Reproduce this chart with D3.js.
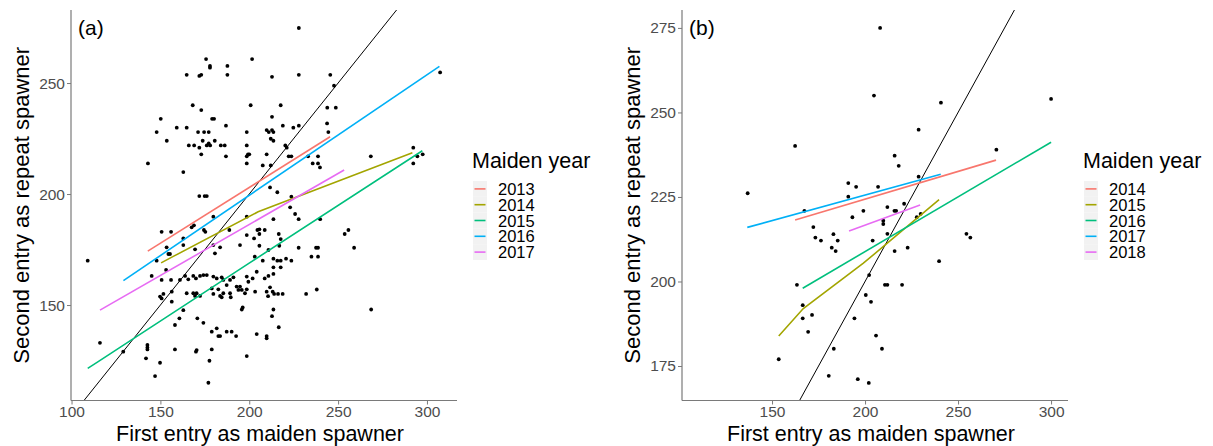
<!DOCTYPE html>
<html>
<head>
<meta charset="utf-8">
<script src="https://cdn.jsdelivr.net/npm/d3@7"></script>
<style>
  html, body { margin: 0; padding: 0; background: #fff; }
  svg { display: block; font-family: "Liberation Sans", Arial, sans-serif; }
</style>
</head>
<body>
<svg id="chart" width="1213" height="446"></svg>
<script>
// ---- Panel (a): maiden years 2013-2017 ----
const yearsA = ["2013", "2014", "2015", "2016", "2017"];
const ticksAx = [100, 150, 200, 250, 300];
const ticksAy = [150, 200, 250];

// first entry (maiden) vs second entry (repeat), day of year
const pointsA = [
  [175.7,260.8],[177.9,257.7],[177.9,256.9],[187.7,257.7],[201.6,260.8],[164.8,253.7],[171.9,253.2],[173,253.7],
  [187.7,253.7],[168.2,240],[173,237.8],[200.8,240],[150.2,233.9],[179.1,233.9],[180.2,233.9],[147.9,227.9],
  [159.2,229.9],[164.8,229.9],[171.2,227.9],[174.6,227.9],[177.2,227.9],[186.9,230.8],[198.6,227.9],[153.6,224],
  [166,221.9],[169,221.9],[171.9,220.9],[173.8,224],[176.1,221.9],[177.2,222.8],[178,221.9],[180.6,224],
  [184,221.9],[186.2,221.9],[198.6,221.9],[173,217.9],[186.9,217],[198.6,217],[199.3,217.9],[200,217.9],
  [198.6,213.8],[143,213.8],[162.9,209.9],[171.9,199.1],[174.9,199.1],[176.1,199.1],
  [227.9,274.8],[212.8,252.8],[227.9,253.7],[245.6,253.7],[247.7,248.8],[307.4,254.8],[217.7,240],[243.9,238.9],
  [248.7,238.9],[212.8,234.8],[218.9,230.8],[224.8,229.9],[227.9,230.8],[243.8,231.8],[244.5,227.9],[209.8,228.8],
  [211,227.9],[212.8,228.8],[213.6,227.9],[212.1,224.9],[213.6,224],[220.3,221.9],[221.1,220.9],[209.8,217.9],
  [222.2,217],[223.7,217],[233.1,217],[238.7,217],[235.7,213.8],[238.7,213.8],[239.8,212],[207.6,212.9],
  [212.1,212.9],[268.4,217],[292.3,220.9],[297.6,217.9],[294.6,217],[292.3,213.8],[211.7,203],[215.8,200.8],
  [223.7,198.8],
  [179.8,189.8],[198.6,189.8],[167.6,185],[168.9,185.9],[150.7,183],[156,183],[174.5,183.8],[175.3,183],
  [188.8,183.8],[205.7,184.1],[198.6,181.5],[202.7,180],[162.9,180],[153.5,176],[162.9,177],[179.8,177],
  [183.6,176],[154.5,173],[155.4,173],[169.5,175.1],[180.7,173.3],[194.8,177],[147.9,170],[153.2,165.8],
  [145.1,163.1],[150.7,161.3],[156,161.3],[161,161.3],[163.9,163.1],[165.7,161.6],[168.5,163.1],[170,162],
  [172.3,163.1],[174.2,163.5],[176.1,163.5],[179.8,162.8],[181.7,162],[184.5,162.5],[185.4,161.3],[187.3,159],
  [189.2,161.3],[191.1,162.5],[194.8,158.3],[198.6,162.8],[199.5,160.5],[201.9,162],[204.2,165],[149.8,153.8],
  [150.7,153],[151.7,155],[156.4,156],[156.4,151.5],[164.8,155.3],[168.5,155.3],[169.5,154.1],[170.4,155.3],
  [172.3,154.1],[178.9,157.5],[179.8,155],[182.6,157.1],[183.6,154.1],[184.5,153.5],[185.4,155.3],[189.2,155.3],
  [189.6,153.5],[192.9,158.3],[193.9,156.8],[195.8,156.8],[197.6,155.3],[198.6,157.1],[203.3,156],[158.2,141],
  [160.7,144],[162.9,147.7],[170.8,144],[174.2,142],[178.9,138],[181.7,139.5],[182.6,136],[183.6,136],
  [187.3,138],[190.1,138],[192.6,136],[195.8,148],[196.3,148.9],[204.2,136.9],[142.7,132],[142.7,130.9],
  [142.7,130],[141.9,126],[158.2,130],[149.8,124],[147,118],[170,129],[170.4,129.7],[177.6,124.9],
  [178.9,130],[198.6,127],[177,115],[116,133],[129.1,129],[109.1,170],
  [223,194],[225.8,191],[227.8,188.7],[213.6,188.7],[239.9,188.7],[204.6,183.8],[208.7,183.8],[205.7,182],
  [216.6,182],[217.7,179.7],[216.9,176.7],[205.7,176.7],[210.8,174.8],[227.8,175.8],[237.6,175.8],[238.7,175.8],
  [235,171.8],[238.7,171.8],[203.1,171.8],[207.6,170],[213.6,170.9],[215.8,170],[217.7,170],[220.7,170.9],
  [223.7,170],[213.6,167],[217.7,167],[213.6,164],[210.8,163.1],[208.7,162],[253.7,182],[255.8,183.8],
  [259,175.8],[211.7,158],[209.8,156],[210.6,154],[213.2,156],[214,155],[216.2,155],[218.8,155],
  [232,155],[238,157],[213.6,148],[212.8,145],[216.6,140],[209.8,136],[209.8,135],[268.6,148]
];

// fitted lines per maiden year
const lineA2013 = [[142.9,174.3],[245.5,225.8]];
const lineA2014 = [[150.4,169.0],[157.0,171.8],[205.0,192.0],[291.8,218.6]];
const lineA2015 = [[109.1,121.5],[115.0,124.5],[200.4,169.1],[297.4,219.5]];
const lineA2016 = [[129.2,161.0],[307.0,257.5]];
const lineA2017 = [[116.0,147.7],[253.4,210.8]];

// ---- Panel (b): maiden years 2014-2018 ----
const yearsB = ["2014", "2015", "2016", "2017", "2018"];
const ticksBx = [150, 200, 250, 300];
const ticksBy = [175, 200, 225, 250, 275];

const pointsB = [
  [136.9,226.1],[162.4,240.1],[191,229.1],[195.2,228],[191,225.1],
  [208.1,275],[204.8,255],[240.8,252.9],[300,254],[228.8,244.9],[215.9,237.2],[218.1,234.2],[270.6,239],
  [228.8,231],[207,228],[212,222],[221,223],
  [167.4,220.9],[193.2,219],[199.1,220.9],[172.2,216.1],[173.3,213],[176.3,212.1],[183,214],[185.3,212.1],
  [182.1,210],[184.2,209],[163.4,199],[166.5,193],[166.5,189.1],[171.5,190.1],[169.4,185.1],[194.3,189.1],
  [200.4,196],[202.2,201.9],[183.2,180.1],[153.6,177],[180.5,172.1],[196.1,171.1],[202,170],
  [215.8,220.9],[216.7,220.9],[209.8,218],[209.8,217],[212,214.1],[204.1,212.1],[227.8,219],[229.9,220],
  [215.9,209],[222.9,210],[239.8,206],[254.5,214.1],[256.6,213],[210.7,199],[212,199],[219.9,199],
  [203.2,194],[205.9,184],[209.1,180.1]
];

const lineB2014 = [[162.4,218.2],[270.4,235.9]];
const lineB2015 = [[153.6,183.9],[166.8,192.0],[199.1,205.4],[239.8,224.2]];
const lineB2016 = [[166.5,198.0],[300.0,241.2]];
const lineB2017 = [[136.7,216.0],[240.7,231.7]];
const lineB2018 = [[191.4,214.9],[229.6,222.6]];

// ggplot-style hue palette for five groups
const palette = ["#F8766D", "#A3A500", "#00BF7D", "#00B0F6", "#E76BF3"];

const svg = d3.select("#chart");

function drawPanel(opt) {
  const g = svg.append("g");
  const x = d3.scaleLinear().domain(opt.xDomain).range([opt.left, opt.right]);
  const y = d3.scaleLinear().domain(opt.yDomain).range([opt.bottom, opt.top]);

  const clipId = "clip-" + opt.id;
  svg.append("clipPath").attr("id", clipId)
    .append("rect")
    .attr("x", opt.left).attr("y", opt.top)
    .attr("width", opt.right - opt.left).attr("height", opt.bottom - opt.top);

  const plot = g.append("g").attr("clip-path", `url(#${clipId})`);

  // points
  plot.selectAll("circle").data(opt.points).join("circle")
    .attr("cx", d => x(d[0])).attr("cy", d => y(d[1]))
    .attr("r", 1.9).attr("fill", "#000");

  // 1:1 reference line
  const lo = Math.max(opt.xDomain[0], opt.yDomain[0]);
  const hi = Math.min(opt.xDomain[1], opt.yDomain[1]);
  plot.append("line")
    .attr("x1", x(lo)).attr("y1", y(lo)).attr("x2", x(hi)).attr("y2", y(hi))
    .attr("stroke", "#000").attr("stroke-width", 1);

  // per-year fitted lines
  const line = d3.line().x(d => x(d[0])).y(d => y(d[1]));
  opt.lines.forEach((pts, i) => {
    plot.append("path").attr("d", line(pts))
      .attr("fill", "none").attr("stroke", palette[i]).attr("stroke-width", 1.6);
  });

  // axes
  const xAxis = d3.axisBottom(x).tickValues(opt.xTicks).tickSize(4).tickPadding(1);
  const yAxis = d3.axisLeft(y).tickValues(opt.yTicks).tickSize(4).tickPadding(2);
  const gx = g.append("g").attr("transform", `translate(0,${opt.bottom})`).call(xAxis);
  const gy = g.append("g").attr("transform", `translate(${opt.left},0)`).call(yAxis);
  [gx, gy].forEach(a => {
    a.select(".domain").attr("stroke", "#7a7a7a").attr("stroke-width", 1.2);
    a.selectAll(".tick line").attr("stroke", "#7a7a7a").attr("stroke-width", 1);
    a.selectAll(".tick text").attr("fill", "#4D4D4D").style("font-size", "15.5px")
      .style("font-family", "Liberation Sans, Arial, sans-serif");
  });
  gx.select(".domain").attr("d", `M${opt.left},0H${opt.right}`);
  gy.select(".domain").attr("d", `M0,${opt.top}V${opt.bottom}`);

  // panel tag
  g.append("text").attr("x", opt.left + 7).attr("y", opt.top + 25)
    .style("font-size", "21px").attr("fill", "#000").text(opt.tag);

  // axis titles
  g.append("text")
    .attr("x", (opt.left + opt.right) / 2 - 4).attr("y", 440.5)
    .attr("text-anchor", "middle").style("font-size", "21.5px").attr("fill", "#000")
    .text("First entry as maiden spawner");
  g.append("text")
    .attr("transform", `translate(${opt.left - 42},${(opt.top + opt.bottom) / 2}) rotate(-90)`)
    .attr("text-anchor", "middle").style("font-size", "22px").attr("fill", "#000")
    .text("Second entry as repeat spawner");

  // legend
  const lg = g.append("g").attr("transform", `translate(${opt.legendX},0)`);
  lg.append("text").attr("x", 0).attr("y", 168)
    .style("font-size", "21.5px").attr("fill", "#000").text("Maiden year");
  const keyH = 15.8, keyTop = 181;
  opt.years.forEach((yr, i) => {
    const ky = keyTop + i * keyH;
    lg.append("rect").attr("x", 1).attr("y", ky).attr("width", 14).attr("height", keyH)
      .attr("fill", "#F2F2F2");
    lg.append("line").attr("x1", 2.5).attr("x2", 13.5)
      .attr("y1", ky + keyH / 2).attr("y2", ky + keyH / 2)
      .attr("stroke", palette[i]).attr("stroke-width", 1.6);
    lg.append("text").attr("x", 26).attr("y", ky + keyH / 2 + 6)
      .style("font-size", "16.5px").attr("fill", "#000").text(yr);
  });
}

drawPanel({
  id: "a", tag: "(a)", left: 71, right: 457, top: 10, bottom: 400.5,
  xDomain: [99.7, 316.9], yDomain: [107.0, 282.9],
  xTicks: ticksAx, yTicks: ticksAy, points: pointsA,
  lines: [lineA2013, lineA2014, lineA2015, lineA2016, lineA2017],
  years: yearsA, legendX: 472
});

drawPanel({
  id: "b", tag: "(b)", left: 682, right: 1068, top: 10, bottom: 400.5,
  xDomain: [101.6, 309.1], yDomain: [164.8, 280.3],
  xTicks: ticksBx, yTicks: ticksBy, points: pointsB,
  lines: [lineB2014, lineB2015, lineB2016, lineB2017, lineB2018],
  years: yearsB, legendX: 1083
});
</script>
</body>
</html>
